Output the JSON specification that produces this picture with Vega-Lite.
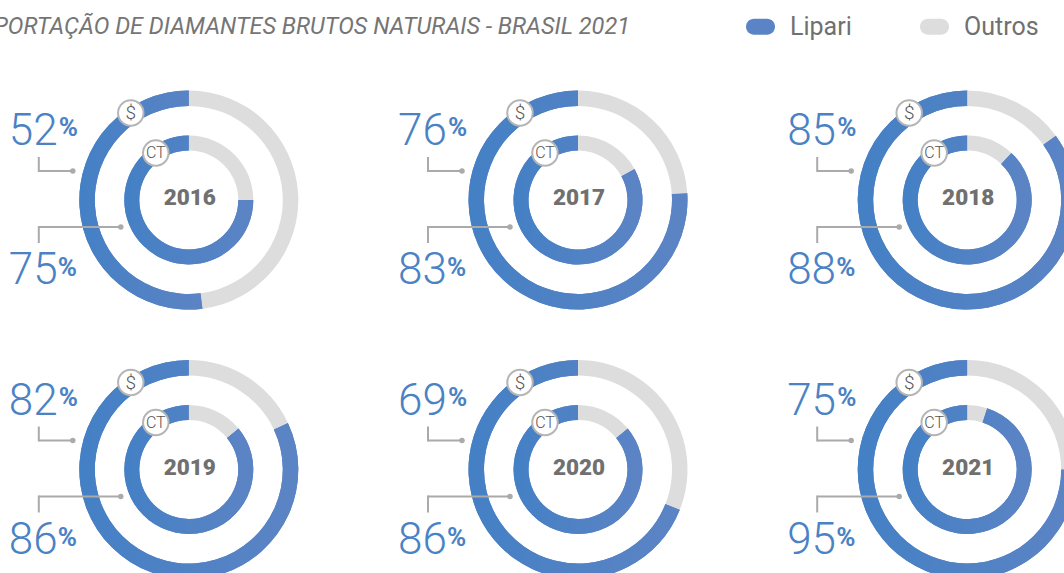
{"$schema":"https://vega.github.io/schema/vega-lite/v6.json","width":1064,"height":573,"padding":0,"autosize":{"type":"none"},"background":"white",
"title":{"text":"EXPORTAÇÃO DE DIAMANTES BRUTOS NATURAIS - BRASIL 2021","anchor":"end","frame":"group","align":"right","dx":-434,"dy":42,"font":"Roboto","fontStyle":"italic","fontWeight":400,"fontSize":23.5,"color":"#757575"},
"config":{"view":{"stroke":null}},
"data":{"values":[
{"year":"2016","col":0,"row":0,"ring":"$","category":"Lipari","value":52},{"year":"2016","col":0,"row":0,"ring":"$","category":"Outros","value":48},{"year":"2016","col":0,"row":0,"ring":"CT","category":"Lipari","value":75},{"year":"2016","col":0,"row":0,"ring":"CT","category":"Outros","value":25},
{"year":"2017","col":1,"row":0,"ring":"$","category":"Lipari","value":76},{"year":"2017","col":1,"row":0,"ring":"$","category":"Outros","value":24},{"year":"2017","col":1,"row":0,"ring":"CT","category":"Lipari","value":83},{"year":"2017","col":1,"row":0,"ring":"CT","category":"Outros","value":17},
{"year":"2018","col":2,"row":0,"ring":"$","category":"Lipari","value":85},{"year":"2018","col":2,"row":0,"ring":"$","category":"Outros","value":15},{"year":"2018","col":2,"row":0,"ring":"CT","category":"Lipari","value":88},{"year":"2018","col":2,"row":0,"ring":"CT","category":"Outros","value":12},
{"year":"2019","col":0,"row":1,"ring":"$","category":"Lipari","value":82},{"year":"2019","col":0,"row":1,"ring":"$","category":"Outros","value":18},{"year":"2019","col":0,"row":1,"ring":"CT","category":"Lipari","value":86},{"year":"2019","col":0,"row":1,"ring":"CT","category":"Outros","value":14},
{"year":"2020","col":1,"row":1,"ring":"$","category":"Lipari","value":69},{"year":"2020","col":1,"row":1,"ring":"$","category":"Outros","value":31},{"year":"2020","col":1,"row":1,"ring":"CT","category":"Lipari","value":86},{"year":"2020","col":1,"row":1,"ring":"CT","category":"Outros","value":14},
{"year":"2021","col":2,"row":1,"ring":"$","category":"Lipari","value":75},{"year":"2021","col":2,"row":1,"ring":"$","category":"Outros","value":25},{"year":"2021","col":2,"row":1,"ring":"CT","category":"Lipari","value":95},{"year":"2021","col":2,"row":1,"ring":"CT","category":"Outros","value":5}
]},
"transform":[{"stack":"value","groupby":["year","ring"],"sort":[{"field":"category","order":"descending"}],"as":["start","end"]}],
"encoding":{
"x":{"field":"col","type":"quantitative","axis":null,"scale":{"domain":[0,2],"range":[188.8,967.2],"nice":false,"zero":false}},
"y":{"field":"row","type":"quantitative","axis":null,"scale":{"domain":[0,1],"range":[200,469.5],"nice":false,"zero":false}}
},
"layer":[
{"transform":[{"filter":"datum.ring==='$'"}],"mark":{"type":"arc","radius":109.5,"radius2":94},"encoding":{
"theta":{"field":"start","type":"quantitative","scale":{"domain":[0,100],"range":[0,6.2832]}},"theta2":{"field":"end"},
"color":{"field":"category","type":"nominal","scale":{"domain":["Lipari","Outros"],"range":["#5a84c5","#dddddd"]},
"legend":{"orient":"none","legendX":746,"legendY":12,"direction":"horizontal","title":null,"symbolType":"M-0.45,-0.55 H0.45 A0.55,0.55 0 0 1 0.45,0.55 H-0.45 A0.55,0.55 0 0 1 -0.45,-0.55 Z","symbolSize":841,"symbolStrokeWidth":0,"labelFont":"Roboto","labelFontSize":25,"labelColor":"#707070","labelOffset":15,"columnPadding":68}}}},
{"transform":[{"filter":"datum.ring==='CT'"}],"mark":{"type":"arc","radius":64.5,"radius2":49.5},"encoding":{
"theta":{"field":"start","type":"quantitative"},"theta2":{"field":"end"},"color":{"field":"category","type":"nominal"}}},
{"transform":[{"filter":"datum.ring==='$' && datum.category==='Lipari'"}],"mark":{"type":"arc","radius":109.5,"radius2":94,"color":{"gradient":"linear","x1":0,"x2":1,"y1":0,"y2":0,"stops":[{"offset":0,"color":"#4480c5"},{"offset":1,"color":"#5c84c4"}]}},"encoding":{
"theta":{"field":"start","type":"quantitative"},"theta2":{"field":"end"}}},
{"transform":[{"filter":"datum.ring==='CT' && datum.category==='Lipari'"}],"mark":{"type":"arc","radius":64.5,"radius2":49.5,"color":{"gradient":"linear","x1":0,"x2":1,"y1":0,"y2":0,"stops":[{"offset":0,"color":"#4480c5"},{"offset":1,"color":"#5c84c4"}]}},"encoding":{
"theta":{"field":"start","type":"quantitative"},"theta2":{"field":"end"}}},
{"transform":[{"filter":"datum.ring==='$' && datum.category==='Lipari'"}],"mark":{"type":"rule","color":"#aaaaaa","strokeWidth":2,"xOffset":-150,"x2Offset":-116,"yOffset":-29},"encoding":{"x2":{"field":"col"}}},
{"transform":[{"filter":"datum.ring==='$' && datum.category==='Lipari'"}],"mark":{"type":"rule","color":"#aaaaaa","strokeWidth":2,"xOffset":-150,"yOffset":-43,"y2Offset":-28},"encoding":{"y2":{"field":"row"}}},
{"transform":[{"filter":"datum.ring==='CT' && datum.category==='Lipari'"}],"mark":{"type":"rule","color":"#aaaaaa","strokeWidth":2,"xOffset":-150,"x2Offset":-68,"yOffset":27},"encoding":{"x2":{"field":"col"}}},
{"transform":[{"filter":"datum.ring==='CT' && datum.category==='Lipari'"}],"mark":{"type":"rule","color":"#aaaaaa","strokeWidth":2,"xOffset":-150,"yOffset":26,"y2Offset":43},"encoding":{"y2":{"field":"row"}}},
{"transform":[{"filter":"datum.ring==='$' && datum.category==='Lipari'"}],"mark":{"type":"point","shape":"circle","filled":true,"color":"#aaaaaa","size":30,"opacity":1,"xOffset":-116,"yOffset":-29}},
{"transform":[{"filter":"datum.ring==='CT' && datum.category==='Lipari'"}],"mark":{"type":"point","shape":"circle","filled":true,"color":"#aaaaaa","size":30,"opacity":1,"xOffset":-68,"yOffset":27}},
{"transform":[{"filter":"datum.ring==='$' && datum.category==='Lipari'"}],"mark":{"type":"point","shape":"circle","filled":true,"fill":"white","stroke":"#b5b5b5","strokeWidth":2,"size":650,"opacity":1,"xOffset":-58,"yOffset":-87}},
{"transform":[{"filter":"datum.ring==='CT' && datum.category==='Lipari'"}],"mark":{"type":"point","shape":"circle","filled":true,"fill":"white","stroke":"#b5b5b5","strokeWidth":2,"size":650,"opacity":1,"xOffset":-33,"yOffset":-47}},
{"transform":[{"filter":"datum.ring==='$' && datum.category==='Lipari'"}],"mark":{"type":"text","font":"Roboto","fontSize":19,"fontWeight":300,"color":"#555555","align":"center","baseline":"middle","xOffset":-58,"yOffset":-87},"encoding":{"text":{"field":"ring"}}},
{"transform":[{"filter":"datum.ring==='CT' && datum.category==='Lipari'"}],"mark":{"type":"text","font":"Roboto","fontSize":16,"fontWeight":300,"color":"#555555","align":"center","baseline":"middle","xOffset":-33,"yOffset":-47},"encoding":{"text":{"field":"ring"}}},
{"transform":[{"filter":"datum.ring==='$' && datum.category==='Lipari'"}],"mark":{"type":"text","font":"Roboto","fontSize":22.5,"fontWeight":900,"color":"#707070","align":"center","baseline":"alphabetic","xOffset":1,"yOffset":5},"encoding":{"text":{"field":"year"}}},
{"transform":[{"filter":"datum.ring==='$' && datum.category==='Lipari'"}],"mark":{"type":"text","font":"Roboto","fontSize":44,"fontWeight":300,"color":"#4a82c4","align":"left","baseline":"alphabetic","xOffset":-180,"yOffset":-55},"encoding":{"text":{"field":"value"}}},
{"transform":[{"filter":"datum.ring==='CT' && datum.category==='Lipari'"}],"mark":{"type":"text","font":"Roboto","fontSize":44,"fontWeight":300,"color":"#4a82c4","align":"left","baseline":"alphabetic","xOffset":-180,"yOffset":84},"encoding":{"text":{"field":"value"}}},
{"transform":[{"filter":"datum.ring==='$' && datum.category==='Lipari'"}],"mark":{"type":"text","text":"%","font":"Roboto","fontSize":26,"fontWeight":700,"color":"#4a82c4","align":"left","baseline":"alphabetic","xOffset":-130,"yOffset":-64}},
{"transform":[{"filter":"datum.ring==='CT' && datum.category==='Lipari'"}],"mark":{"type":"text","text":"%","font":"Roboto","fontSize":26,"fontWeight":700,"color":"#4a82c4","align":"left","baseline":"alphabetic","xOffset":-131,"yOffset":76}}
]}
